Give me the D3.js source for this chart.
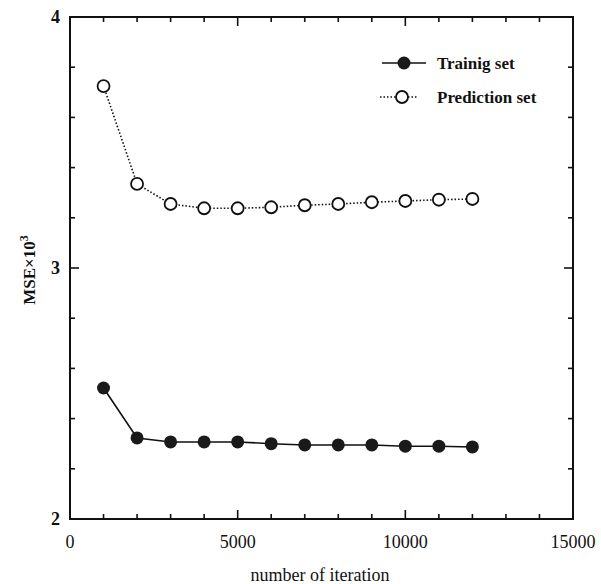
<!DOCTYPE html>
<html>
<head>
<meta charset="utf-8" />
<script src="https://d3js.org/d3.v7.min.js"></script>
<style>
  body { margin: 0; background: #fff; }
  text { font-family: "Liberation Serif", "DejaVu Serif", serif; fill: #111; }
</style>
</head>
<body>
<svg id="chart" width="601" height="584"></svg>
<script>
// data
const iterations = [1000, 2000, 3000, 4000, 5000, 6000, 7000, 8000, 9000, 10000, 11000, 12000];
const trainingMSE = [2.522, 2.323, 2.307, 2.307, 2.307, 2.300, 2.295, 2.295, 2.295, 2.290, 2.290, 2.287];
const predictionMSE = [3.725, 3.335, 3.255, 3.238, 3.238, 3.242, 3.250, 3.255, 3.262, 3.267, 3.272, 3.275];
const xTickValues = [0, 5000, 10000, 15000];
const yTickValues = [2, 3, 4];
const legendLabels = ["Trainig set", "Prediction set"];

const svg = d3.select("#chart");
const pLeft = 70, pRight = 573, pTop = 17, pBottom = 519;

const x = d3.scaleLinear().domain([0, 15000]).range([pLeft, pRight]);
const y = d3.scaleLinear().domain([2, 4]).range([pBottom, pTop]);

const frame = svg.append("g");
frame.append("rect")
  .attr("x", pLeft).attr("y", pTop)
  .attr("width", pRight - pLeft).attr("height", pBottom - pTop)
  .attr("fill", "none").attr("stroke", "#111").attr("stroke-width", 2);

// ticks, inward on all four sides
const xMinor = d3.range(1000, 15000, 1000);
const yMinor = d3.range(2.2, 4, 0.2);
xMinor.forEach(v => {
  const len = v % 5000 === 0 ? 9 : 5;
  frame.append("line").attr("x1", x(v)).attr("x2", x(v)).attr("y1", pBottom).attr("y2", pBottom - len);
  frame.append("line").attr("x1", x(v)).attr("x2", x(v)).attr("y1", pTop).attr("y2", pTop + len);
});
yMinor.forEach(v => {
  const len = Math.abs(v - 3) < 1e-6 ? 9 : 5;
  frame.append("line").attr("y1", y(v)).attr("y2", y(v)).attr("x1", pLeft).attr("x2", pLeft + len);
  frame.append("line").attr("y1", y(v)).attr("y2", y(v)).attr("x1", pRight).attr("x2", pRight - len);
});
frame.selectAll("line").attr("stroke", "#111").attr("stroke-width", 1.6);

// tick labels
svg.append("g").selectAll("text").data(xTickValues).join("text")
  .attr("x", d => x(d)).attr("y", 548)
  .attr("text-anchor", "middle")
  .style("font-size", "18px")
  .text(d => d);
svg.append("g").selectAll("text").data(yTickValues).join("text")
  .attr("x", pLeft - 10).attr("y", d => y(d) + 6)
  .attr("text-anchor", "end")
  .style("font-size", "18px").style("font-weight", "bold")
  .text(d => d);

// axis titles
svg.append("text")
  .attr("x", 320).attr("y", 581)
  .attr("text-anchor", "middle")
  .style("font-size", "18px")
  .text("number of iteration");
const yl = svg.append("text")
  .attr("transform", "translate(35,270) rotate(-90)")
  .attr("text-anchor", "middle")
  .style("font-size", "17px").style("font-weight", "bold");
yl.append("tspan").text("MSE×10");
yl.append("tspan").attr("dy", -7).style("font-size", "12px").text("3");

// series
const line = d3.line().x(d => x(d[0])).y(d => y(d[1]));
const trainPts = iterations.map((v, i) => [v, trainingMSE[i]]);
const predPts = iterations.map((v, i) => [v, predictionMSE[i]]);

svg.append("path").datum(trainPts).attr("d", line)
  .attr("fill", "none").attr("stroke", "#111").attr("stroke-width", 1.6);
svg.append("path").datum(predPts).attr("d", line)
  .attr("fill", "none").attr("stroke", "#111").attr("stroke-width", 1.6)
  .attr("stroke-dasharray", "1.5,2");

svg.append("g").selectAll("circle").data(trainPts).join("circle")
  .attr("cx", d => x(d[0])).attr("cy", d => y(d[1])).attr("r", 6.5)
  .attr("fill", "#1a1a1a");
svg.append("g").selectAll("circle").data(predPts).join("circle")
  .attr("cx", d => x(d[0])).attr("cy", d => y(d[1])).attr("r", 6)
  .attr("fill", "#fff").attr("stroke", "#111").attr("stroke-width", 1.8);

// legend
const lg = svg.append("g");
lg.append("line").attr("x1", 382).attr("x2", 426).attr("y1", 63).attr("y2", 63)
  .attr("stroke", "#111").attr("stroke-width", 1.6);
lg.append("circle").attr("cx", 404).attr("cy", 63).attr("r", 6.5).attr("fill", "#1a1a1a");
lg.append("line").attr("x1", 380).attr("x2", 418).attr("y1", 97).attr("y2", 97)
  .attr("stroke", "#111").attr("stroke-width", 1.6).attr("stroke-dasharray", "1.5,2");
lg.append("circle").attr("cx", 402).attr("cy", 97).attr("r", 6)
  .attr("fill", "#fff").attr("stroke", "#111").attr("stroke-width", 1.8);
lg.selectAll("text").data(legendLabels).join("text")
  .attr("x", 437).attr("y", (d, i) => 69 + i * 34)
  .style("font-size", "17px").style("font-weight", "bold")
  .text(d => d);
</script>
</body>
</html>
